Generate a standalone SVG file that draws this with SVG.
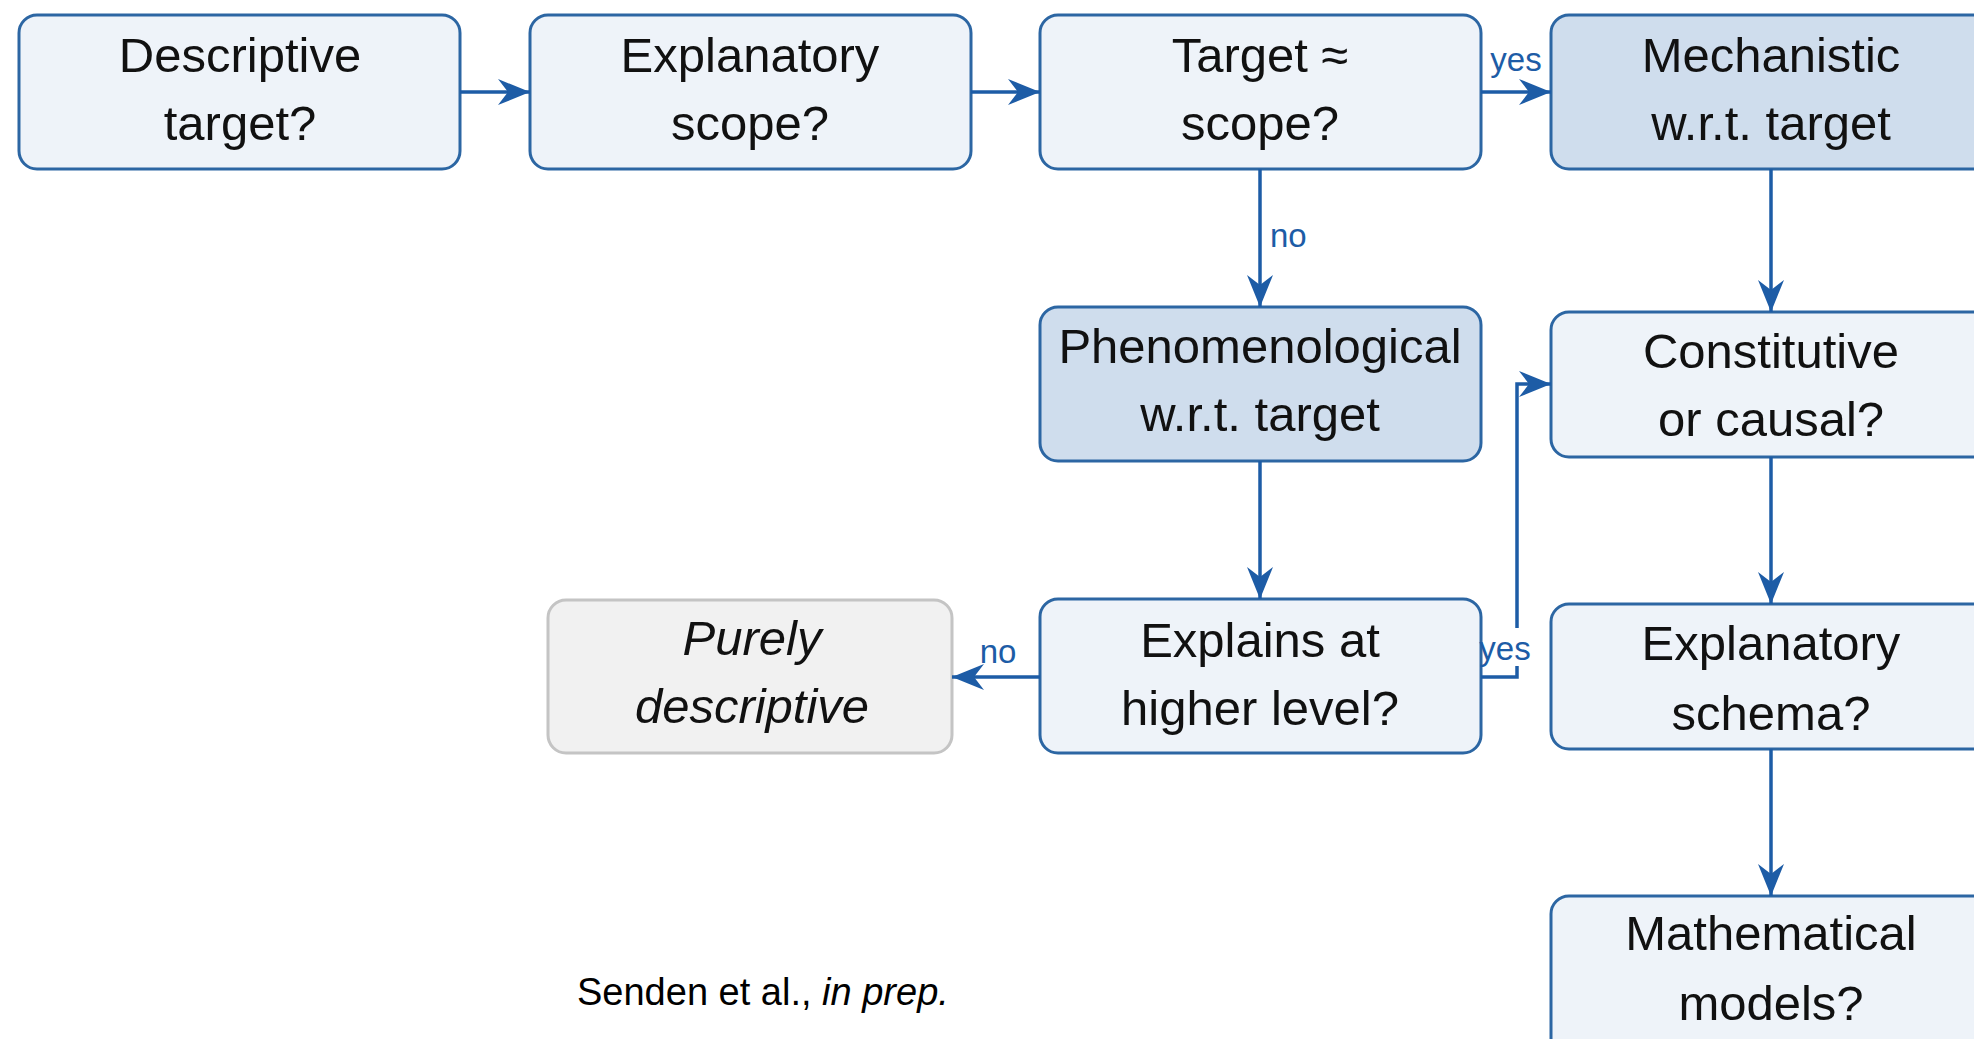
<svg xmlns="http://www.w3.org/2000/svg" width="1974" height="1039" viewBox="0 0 1974 1039">
<style>
.box{fill:#eef3f9;stroke:#2c66a3;stroke-width:3}
.dark{fill:#cfdded;stroke:#2c66a3;stroke-width:3}
.gray{fill:#f1f1f1;stroke:#c4c4c4;stroke-width:3}
.t{font-family:"Liberation Sans",Arial,sans-serif;font-size:49px;fill:#111;text-anchor:middle}
.i{font-style:italic}
.c{fill:none;stroke:#1d5ca6;stroke-width:3.5}
.lbl{font-family:"Liberation Sans",Arial,sans-serif;font-size:33px;fill:#1d5ca6}
.foot{font-family:"Liberation Sans",Arial,sans-serif;font-size:38px;fill:#000}
</style>
<defs>
<marker id="arr" viewBox="0 0 32 26" refX="32" refY="13" markerWidth="32" markerHeight="26" orient="auto" markerUnits="userSpaceOnUse">
<path d="M0,0 L32,13 L0,26 L10,13 z" fill="#1d5ca6"/>
</marker>
</defs>
<rect width="1974" height="1039" fill="#ffffff"/>
<g id="n1"><rect class="box" x="19" y="15" width="441" height="154" rx="18"/><text class="t" x="240" y="72">Descriptive</text><text class="t" x="240" y="140">target?</text></g>
<g id="n2"><rect class="box" x="530" y="15" width="441" height="154" rx="18"/><text class="t" x="750" y="72">Explanatory</text><text class="t" x="750" y="140">scope?</text></g>
<g id="n3"><rect class="box" x="1040" y="15" width="441" height="154" rx="18"/><text class="t" x="1260" y="72">Target ≈</text><text class="t" x="1260" y="140">scope?</text></g>
<g id="n4"><rect class="dark" x="1551" y="15" width="441" height="154" rx="18"/><text class="t" x="1771" y="72">Mechanistic</text><text class="t" x="1771" y="140">w.r.t. target</text></g>
<g id="n5"><rect class="dark" x="1040" y="307" width="441" height="154" rx="18"/><text class="t" x="1260" y="363">Phenomenological</text><text class="t" x="1260" y="431">w.r.t. target</text></g>
<g id="n6"><rect class="box" x="1551" y="312" width="441" height="145" rx="18"/><text class="t" x="1771" y="368">Constitutive</text><text class="t" x="1771" y="436">or causal?</text></g>
<g id="n7"><rect class="gray" x="548" y="600" width="404" height="153" rx="18"/><text class="t i" x="752" y="655">Purely</text><text class="t i" x="752" y="723">descriptive</text></g>
<g id="n8"><rect class="box" x="1040" y="599" width="441" height="154" rx="18"/><text class="t" x="1260" y="657">Explains at</text><text class="t" x="1260" y="725">higher level?</text></g>
<g id="n9"><rect class="box" x="1551" y="604" width="441" height="145" rx="18"/><text class="t" x="1771" y="660">Explanatory</text><text class="t" x="1771" y="730">schema?</text></g>
<g id="n10"><rect class="box" x="1551" y="896" width="441" height="160" rx="18"/><text class="t" x="1771" y="950">Mathematical</text><text class="t" x="1771" y="1020">models?</text></g>
<g id="connectors">
<line class="c" x1="460" y1="92" x2="530" y2="92" marker-end="url(#arr)"/>
<line class="c" x1="971" y1="92" x2="1040" y2="92" marker-end="url(#arr)"/>
<line class="c" x1="1481" y1="92" x2="1551" y2="92" marker-end="url(#arr)"/>
<line class="c" x1="1260" y1="169" x2="1260" y2="307" marker-end="url(#arr)"/>
<line class="c" x1="1771" y1="169" x2="1771" y2="312" marker-end="url(#arr)"/>
<line class="c" x1="1260" y1="461" x2="1260" y2="599" marker-end="url(#arr)"/>
<line class="c" x1="1771" y1="457" x2="1771" y2="604" marker-end="url(#arr)"/>
<line class="c" x1="1771" y1="749" x2="1771" y2="896" marker-end="url(#arr)"/>
<line class="c" x1="1040" y1="677" x2="952" y2="677" marker-end="url(#arr)"/>
<polyline class="c" points="1481,677 1517,677 1517,384 1551,384" marker-end="url(#arr)"/>
<rect x="1484" y="628" width="48" height="38" fill="#ffffff"/>
<text class="lbl" x="1516" y="71" text-anchor="middle">yes</text>
<text class="lbl" x="1270" y="247">no</text>
<text class="lbl" x="998" y="663" text-anchor="middle">no</text>
<text class="lbl" x="1505" y="660" text-anchor="middle">yes</text>
</g>
<text class="foot" x="577" y="1005">Senden et al., <tspan font-style="italic">in prep.</tspan></text>
</svg>
